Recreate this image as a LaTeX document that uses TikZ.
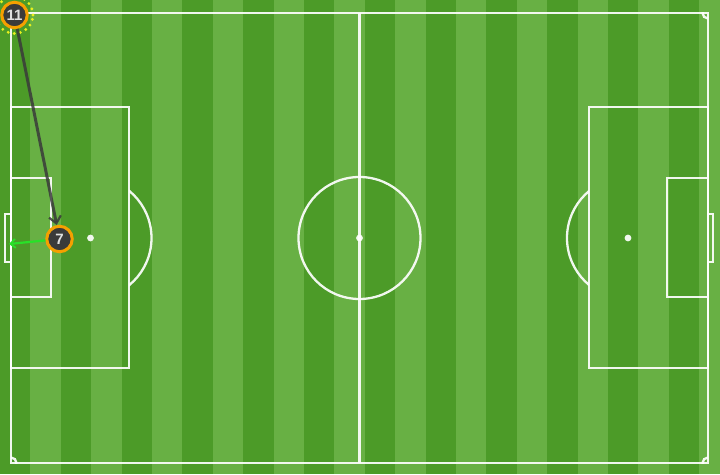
\documentclass[tikz,border=0pt]{standalone}
\usepackage{fontspec}
\setmainfont{Liberation Sans}
\usetikzlibrary{arrows.meta}

\definecolor{grasslight}{RGB}{104,176,68}
\definecolor{grassdark}{RGB}{76,155,40}
\definecolor{shirtgrey}{RGB}{58,58,58}
\definecolor{ringorange}{RGB}{245,160,0}
\definecolor{ringyellow}{RGB}{232,240,30}
\definecolor{passgreen}{RGB}{40,225,40}

\tikzset{
	pline/.style={draw=white,draw opacity=0.92,line width=2.3pt},
	spot/.style={fill=white,fill opacity=0.92},
	player/.style={shape=circle,draw=ringorange,fill=shirtgrey,line width=3pt,
		minimum size=25.5pt,inner sep=0pt,text=white!88!black,
		font=\fontsize{15}{17}\selectfont\bfseries},
	selring/.style={draw=ringyellow,line width=3.2pt,line cap=round,dash pattern=on 0pt off 6.2pt},
	pass/.style={draw=shirtgrey,draw opacity=0.85,line width=3pt,
		-{Straight Barb[length=7pt,width=12pt,line width=2.2pt]}},
	carry/.style={draw=passgreen,line width=2.2pt,
		-{Straight Barb[length=5pt,width=9pt,line width=1.8pt]}}
}

\begin{document}
\begin{tikzpicture}[x=1pt,y=1pt]
	
	\useasboundingbox (0,0) rectangle (720,474);
	
	% grass
	\fill[grasslight] (0,0) rectangle (720,474);
	\fill[grassdark] (0,0)     rectangle (30.4,474);
	\fill[grassdark] (60.8,0)  rectangle (91.2,474);
	\fill[grassdark] (121.6,0) rectangle (152,474);
	\fill[grassdark] (182.4,0) rectangle (212.8,474);
	\fill[grassdark] (243.2,0) rectangle (273.6,474);
	\fill[grassdark] (304,0)   rectangle (334.4,474);
	\fill[grassdark] (364.8,0) rectangle (395.2,474);
	\fill[grassdark] (425.6,0) rectangle (456,474);
	\fill[grassdark] (486.4,0) rectangle (516.8,474);
	\fill[grassdark] (547.2,0) rectangle (577.6,474);
	\fill[grassdark] (608,0)   rectangle (638.4,474);
	\fill[grassdark] (668.8,0) rectangle (699.2,474);
	
	% pitch lines
	\draw[pline] (11,11) rectangle (708,461);
	\draw[pline] (359.5,11) -- (359.5,461);
	\draw[pline] (359.5,236) circle (61);
	\fill[spot]  (359.5,236) circle (3.4);
	
	\draw[pline] (11,106) rectangle (129,367);
	\draw[pline] (11,177) rectangle (51,296);
	\draw[pline] (5,212)  rectangle (11,260);
	\fill[spot]  (90.5,236) circle (3.4);
	
	\draw[pline] (589,106) rectangle (708,367);
	\draw[pline] (667,177) rectangle (708,296);
	\draw[pline] (708,212) rectangle (713,260);
	\fill[spot]  (628,236) circle (3.4);
	
	\begin{scope}
		\clip (129,0) rectangle (200,474);
		\draw[pline] (90.5,236) circle (61);
	\end{scope}
	\begin{scope}
		\clip (520,0) rectangle (589,474);
		\draw[pline] (628,236) circle (61);
	\end{scope}
	\begin{scope}
		\clip (11,11) rectangle (708,461);
		\draw[pline] (11,11)   circle (5.5);
		\draw[pline] (708,11)  circle (5.5);
		\draw[pline] (11,461)  circle (5.5);
		\draw[pline] (708,461) circle (5.5);
	\end{scope}
	
	% players
	\node[player] (p11) at (14.5,459) {11};
	\node[player] (p7)  at (59.5,235) {7};
	\draw[selring] (p11) circle (18.5);
	\coordinate (c7) at (9,230);
	
	\path[pass]  (p11) edge (p7);
	\path[carry] (p7)  edge (c7);
	
\end{tikzpicture}
\end{document}
